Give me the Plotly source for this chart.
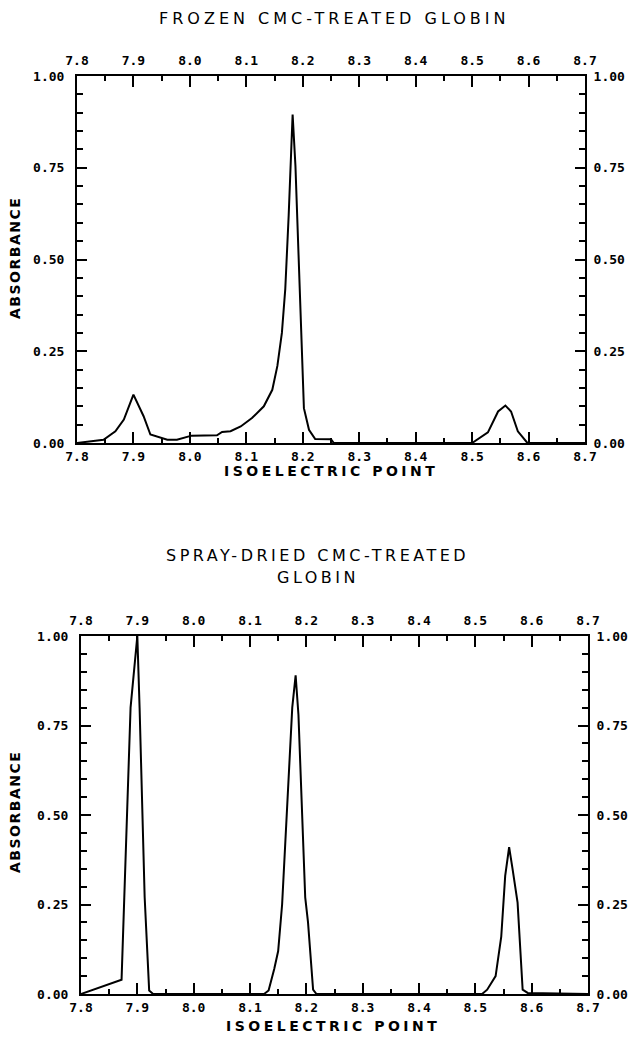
import plotly.graph_objects as go

# ---- data ----
frozen_x = [7.800, 7.847, 7.868, 7.883, 7.900, 7.918, 7.930, 7.942, 7.960, 7.977,
            7.995, 8.003, 8.048, 8.057, 8.072, 8.090, 8.110, 8.131, 8.146, 8.155,
            8.163, 8.169, 8.175, 8.182, 8.187, 8.193, 8.199, 8.202, 8.211, 8.222,
            8.250, 8.255, 8.500, 8.528, 8.546, 8.559, 8.569, 8.581, 8.598, 8.700]
frozen_y = [0.000, 0.009, 0.032, 0.064, 0.132, 0.073, 0.023, 0.018, 0.009, 0.009,
            0.016, 0.020, 0.021, 0.030, 0.032, 0.045, 0.068, 0.100, 0.145, 0.210,
            0.300, 0.420, 0.620, 0.895, 0.755, 0.480, 0.210, 0.095, 0.036, 0.011,
            0.010, 0.000, 0.000, 0.029, 0.086, 0.102, 0.086, 0.032, 0.000, 0.000]

spray_x = [7.800, 7.872, 7.888, 7.900, 7.904, 7.913, 7.921, 7.928, 8.125, 8.133,
           8.143, 8.150, 8.157, 8.168, 8.175, 8.181, 8.186, 8.198, 8.203, 8.212,
           8.218, 8.512, 8.521, 8.536, 8.546, 8.553, 8.560, 8.566, 8.575, 8.584,
           8.593, 8.700]
spray_y = [0.000, 0.040, 0.800, 1.000, 0.800, 0.270, 0.010, 0.000, 0.000, 0.010,
           0.070, 0.120, 0.250, 0.600, 0.800, 0.890, 0.780, 0.270, 0.200, 0.012,
           0.000, 0.000, 0.012, 0.050, 0.160, 0.330, 0.410, 0.350, 0.255, 0.012,
           0.003, 0.000]

x_ticks = [7.8, 7.9, 8.0, 8.1, 8.2, 8.3, 8.4, 8.5, 8.6, 8.7]
x_tick_labels = ["7.8", "7.9", "8.0", "8.1", "8.2", "8.3", "8.4", "8.5", "8.6", "8.7"]
y_ticks = [0.0, 0.25, 0.5, 0.75, 1.0]
y_tick_labels = ["0.00", "0.25", "0.50", "0.75", "1.00"]
x_minor = [7.85, 7.95, 8.05, 8.15, 8.25, 8.35, 8.45, 8.55, 8.65]
y_minor = [0.05, 0.10, 0.15, 0.20, 0.30, 0.35, 0.40, 0.45, 0.55, 0.60, 0.65, 0.70,
           0.80, 0.85, 0.90, 0.95]

title_top = "FROZEN CMC-TREATED GLOBIN"
title_bottom_1 = "SPRAY-DRIED CMC-TREATED"
title_bottom_2 = "GLOBIN"
x_title = "ISOELECTRIC POINT"
y_title = "ABSORBANCE"

W, H = 632, 1038


def px(x):
    return x / W


def py(y):
    return 1 - y / H


TICKFONT = dict(family="DejaVu Sans Mono", size=13, color="black", weight="bold")

fig = go.Figure()
fig.add_trace(go.Scatter(x=frozen_x, y=frozen_y, mode="lines",
                         line=dict(color="black", width=2), xaxis="x", yaxis="y",
                         showlegend=False, hoverinfo="skip"))
fig.add_trace(go.Scatter(x=spray_x, y=spray_y, mode="lines",
                         line=dict(color="black", width=2), xaxis="x3", yaxis="y3",
                         showlegend=False, hoverinfo="skip"))


def xax(domain, anchor, side, standoff, overlay=None):
    d = dict(domain=domain, anchor=anchor, side=side, range=[7.8, 8.7],
             tickmode="array", tickvals=x_ticks, ticktext=x_tick_labels,
             ticks="inside", ticklen=11, tickwidth=2, tickcolor="black",
             minor=dict(tickmode="array", tickvals=x_minor, ticks="inside",
                        ticklen=5, tickwidth=2, tickcolor="black", showgrid=False),
             showline=True, linewidth=2, linecolor="black", showgrid=False,
             zeroline=False, tickfont=TICKFONT, ticklabelstandoff=standoff,
             automargin=False, fixedrange=True)
    if overlay:
        d["overlaying"] = overlay
    return d


def yax(domain, anchor, side, standoff, overlay=None):
    d = dict(domain=domain, anchor=anchor, side=side, range=[0, 1],
             tickmode="array", tickvals=y_ticks, ticktext=y_tick_labels,
             ticks="inside", ticklen=10, tickwidth=2, tickcolor="black",
             minor=dict(tickmode="array", tickvals=y_minor, ticks="inside",
                        ticklen=6, tickwidth=2, tickcolor="black", showgrid=False),
             showline=True, linewidth=2, linecolor="black", showgrid=False,
             zeroline=False, tickfont=TICKFONT, ticklabelstandoff=standoff,
             automargin=False, fixedrange=True)
    if overlay:
        d["overlaying"] = overlay
    return d


xd1 = [px(77), px(585)]
yd1 = [py(443), py(76)]
xd2 = [px(81), px(588)]
yd2 = [py(994), py(636)]

fig.update_layout(
    width=W, height=H,
    margin=dict(l=0, r=0, t=0, b=0, autoexpand=False),
    paper_bgcolor="white", plot_bgcolor="white",
    xaxis=xax(xd1, "y", "bottom", 0),
    xaxis2=xax(xd1, "y2", "top", 4, overlay="x"),
    yaxis=yax(yd1, "x", "left", 8),
    yaxis2=yax(yd1, "x2", "right", 4, overlay="y"),
    xaxis3=xax(xd2, "y3", "bottom", 0),
    xaxis4=xax(xd2, "y4", "top", 4, overlay="x3"),
    yaxis3=yax(yd2, "x3", "left", 8),
    yaxis4=yax(yd2, "x4", "right", 4, overlay="y3"),
)
# invisible traces so the overlaying (top/right) axes get drawn
for xa, ya in [("x2", "y2"), ("x4", "y4")]:
    fig.add_trace(go.Scatter(x=[7.8], y=[0], mode="markers", marker=dict(opacity=0),
                             xaxis=xa, yaxis=ya, showlegend=False, hoverinfo="skip"))


def spaced(text, ls):
    return f"<span style='letter-spacing:{ls}px'>{text}</span>"


TITLEFONT = dict(family="DejaVu Sans", size=16, color="black")
XLABELFONT = dict(family="DejaVu Sans", size=14, color="black", weight="bold")
YLABELFONT = dict(family="DejaVu Sans", size=14, color="black", weight="bold")
ann = [
    dict(text=spaced(title_top, 4), x=px(334), y=py(18), font=TITLEFONT),
    dict(text=spaced(title_bottom_1, 3.5), x=px(317), y=py(555), font=TITLEFONT),
    dict(text=spaced(title_bottom_2, 3.5), x=px(318), y=py(577), font=TITLEFONT),
    dict(text=spaced(x_title, 3.5), x=px(331), y=py(471), font=XLABELFONT),
    dict(text=spaced(x_title, 3.5), x=px(333), y=py(1026), font=XLABELFONT),
    dict(text=spaced(y_title, 1.5), x=px(15), y=py(258), font=YLABELFONT, textangle=-90),
    dict(text=spaced(y_title, 1.5), x=px(15), y=py(812), font=YLABELFONT, textangle=-90),
]
for a in ann:
    fig.add_annotation(xref="paper", yref="paper", showarrow=False,
                       xanchor="center", yanchor="middle", **a)

# remove the browser's default 8px body margin so the 632x1038 figure fits the window
fig.write_html("out.html", config={"displayModeBar": False},
               post_script="document.body.style.margin='0px';")
